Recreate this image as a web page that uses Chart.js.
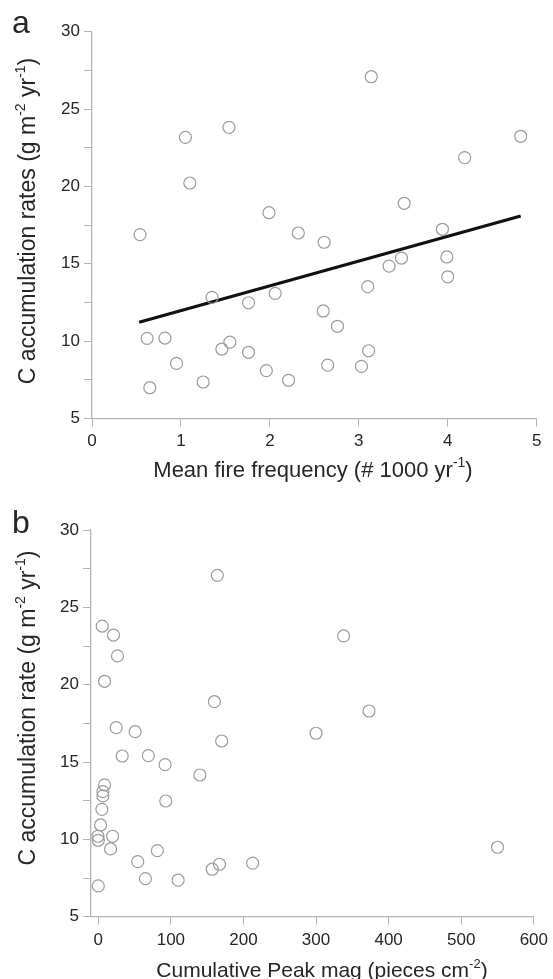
<!DOCTYPE html>
<html>
<head>
<meta charset="utf-8">
<script src="https://cdn.jsdelivr.net/npm/chart.js@4"></script>
<style>
    html, body { margin: 0; padding: 0; background: #fff; }
    #wrap { position: relative; width: 553px; height: 979px; }
    #chart-a { position: absolute; left: 0; top: 0; }
    #chart-b { position: absolute; left: 0; top: 490px; }
</style>
</head>
<body>
<div id="wrap">
    <canvas id="chart-a" width="553" height="490"></canvas>
    <canvas id="chart-b" width="553" height="489"></canvas>
</div>
<script>
// Panel a: mean fire frequency vs C accumulation
const fireFreq = [3.14, 1.05, 1.54, 4.82, 4.19, 1.10, 1.99, 3.51, 0.54, 2.32, 2.61, 3.94,
    3.48, 3.99, 3.34, 4.00, 3.10, 1.35, 2.06, 1.76, 2.60, 2.76, 0.62, 0.82, 1.55, 1.46,
    1.76, 3.11, 0.95, 2.65, 3.03, 1.96, 1.25, 2.21, 0.65];
const accumA = [27.09, 23.17, 23.82, 23.24, 21.86, 20.22, 18.30, 18.91, 16.88, 16.99, 16.39, 17.23,
    15.37, 15.44, 14.85, 14.16, 13.52, 12.83, 13.09, 12.48, 11.95, 10.96, 10.18, 10.20, 9.94, 9.49,
    9.28, 9.38, 8.56, 8.45, 8.37, 8.09, 7.36, 7.47, 6.99];
const trendX = [0.53, 4.82];
const trendY = [11.22, 18.09];

// Panel b: cumulative peak magnitude vs C accumulation
const peakMag = [164, 5.5, 21, 338, 26.5, 8.7, 160, 373, 24.7, 50.8, 300, 170,
    33, 69, 92, 140, 8.7, 6.4, 6.4, 93, 5, 3.2, -0.4, 19.7, 0, 16.9, 81.4, 550,
    54.4, 167, 157, 212.7, 65, 110, 0];
const accumB = [27.07, 23.79, 23.21, 23.15, 21.86, 20.22, 18.90, 18.30, 17.22, 16.96, 16.86, 16.36,
    15.39, 15.41, 14.83, 14.16, 13.52, 13.09, 12.81, 12.48, 11.94, 10.93, 10.20, 10.20, 9.94, 9.38, 9.27, 9.49,
    8.56, 8.39, 8.07, 8.46, 7.46, 7.36, 6.99];

// tick values
const yTicks = [5, 7.5, 10, 12.5, 15, 17.5, 20, 22.5, 25, 27.5, 30];
const xTicksA = [0, 1, 2, 3, 4, 5];
const xTicksB = [0, 100, 200, 300, 400, 500, 600];

const FONT = "'Liberation Sans', Arial, Helvetica, sans-serif";
const AXIS_GREY = '#b3b3b3';
const TEXT_COL = '#262626';

// draws text with ^{...} superscripts, centred on x
function drawRich(ctx, str, x, y, size) {
    const parts = str.split(/\^\{([^}]*)\}/);
    const supSize = Math.round(size * 0.62);
    let total = 0;
    parts.forEach((p, i) => {
        ctx.font = `${i % 2 ? supSize : size}px ${FONT}`;
        total += ctx.measureText(p).width;
    });
    let cx = x - total / 2;
    ctx.textAlign = 'left';
    ctx.textBaseline = 'alphabetic';
    parts.forEach((p, i) => {
        const sup = i % 2 === 1;
        ctx.font = `${sup ? supSize : size}px ${FONT}`;
        ctx.fillText(p, cx, sup ? y - size * 0.42 : y);
        cx += ctx.measureText(p).width;
    });
}

function labelsPlugin(cfg) {
    return {
        id: 'panelLabels',
        afterDraw(chart) {
            const ctx = chart.ctx;
            const area = chart.chartArea;
            ctx.save();
            ctx.fillStyle = TEXT_COL;
            // panel letter
            ctx.font = `32px ${FONT}`;
            ctx.textAlign = 'left';
            ctx.textBaseline = 'alphabetic';
            ctx.fillText(cfg.letter, 12, cfg.letterY);
            // x title
            drawRich(ctx, cfg.xTitle, cfg.xTitleX, area.bottom + cfg.xTitleDy, cfg.xSize);
            // y title (rotated)
            ctx.save();
            ctx.translate(35, cfg.yTitleY);
            ctx.rotate(-Math.PI / 2);
            drawRich(ctx, cfg.yTitle, 0, 0, 23);
            ctx.restore();
            ctx.restore();
        }
    };
}

function axisCommon(ticks, fixedSize, isY) {
    return {
        type: 'linear',
        afterBuildTicks: scale => { scale.ticks = ticks.map(v => ({ value: v })); },
        afterFit: scale => {
            if (isY) scale.width = fixedSize; else scale.height = fixedSize;
        },
        grid: { drawOnChartArea: false, drawTicks: true, tickLength: 8, color: AXIS_GREY, lineWidth: 1 },
        border: { color: AXIS_GREY, width: 1.3 },
        ticks: {
            autoSkip: false,
            maxRotation: 0,
            padding: isY ? 4 : 5,
            color: TEXT_COL,
            font: { family: FONT, size: 17 },
            callback: v => (isY && v % 5 !== 0) ? '' : v
        }
    };
}

const pointStyle = {
    pointRadius: 6,
    pointHoverRadius: 6,
    pointBorderColor: '#9c9c9c',
    pointBackgroundColor: 'rgba(0,0,0,0)',
    pointBorderWidth: 1.2,
    showLine: false
};

function initPanelA() {
    const canvas = document.getElementById('chart-a');
    return new Chart(canvas.getContext('2d'), {
        type: 'scatter',
        data: {
            datasets: [{
                data: fireFreq.map((x, i) => ({ x: x, y: accumA[i] })),
                ...pointStyle
            }, {
                data: trendX.map((x, i) => ({ x: x, y: trendY[i] })),
                showLine: true,
                borderColor: '#111',
                borderWidth: 3.2,
                pointRadius: 0
            }]
        },
        options: {
            responsive: false,
            animation: false,
            layout: { padding: { top: 31.7, right: 16.3, left: 0, bottom: 0 } },
            plugins: { legend: { display: false }, tooltip: { enabled: false } },
            scales: {
                x: { ...axisCommon(xTicksA, 71.5, false), min: 0, max: 5 },
                y: { ...axisCommon(yTicks, 92, true), min: 5, max: 30 }
            }
        },
        plugins: [labelsPlugin({
            letter: 'a', letterY: 33,
            xTitle: 'Mean fire frequency (# 1000 yr^{-1})', xTitleX: 313, xTitleDy: 58, xSize: 22,
            yTitle: 'C accumulation rates (g m^{-2} yr^{-1})', yTitleY: 221
        })]
    });
}

function initPanelB() {
    const canvas = document.getElementById('chart-b');
    return new Chart(canvas.getContext('2d'), {
        type: 'scatter',
        data: {
            datasets: [{
                data: peakMag.map((x, i) => ({ x: x, y: accumB[i] })),
                ...pointStyle
            }]
        },
        options: {
            responsive: false,
            animation: false,
            layout: { padding: { top: 40, right: 16.3, left: 0, bottom: 0 } },
            plugins: { legend: { display: false }, tooltip: { enabled: false } },
            scales: {
                x: { ...axisCommon(xTicksB, 62.3, false), min: -10, max: 600 },
                y: { ...axisCommon(yTicks, 91, true), min: 5, max: 30 }
            }
        },
        plugins: [labelsPlugin({
            letter: 'b', letterY: 43,
            xTitle: 'Cumulative Peak mag (pieces cm^{-2})', xTitleX: 322, xTitleDy: 60, xSize: 21,
            yTitle: 'C accumulation rate (g m^{-2} yr^{-1})', yTitleY: 218
        })]
    });
}

document.addEventListener('DOMContentLoaded', () => {
    initPanelA();
    initPanelB();
});
</script>
</body>
</html>
